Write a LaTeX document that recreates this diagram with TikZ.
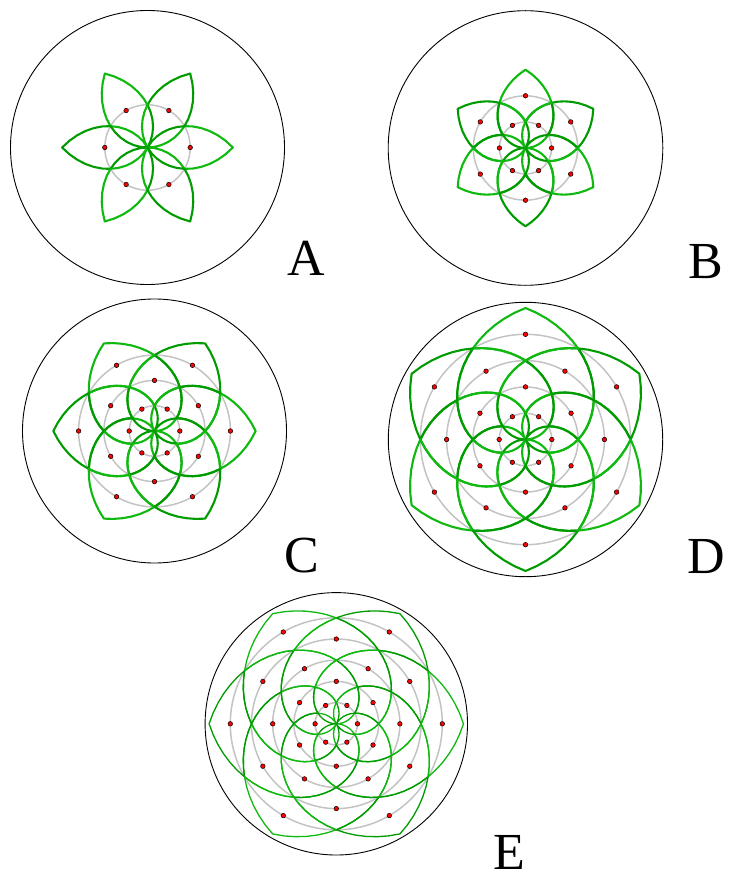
\documentclass[tikz,border=0pt]{standalone}
\usepackage{fontspec}
\setmainfont{Liberation Serif}
\definecolor{gA}{RGB}{0,155,0}
\definecolor{gB}{RGB}{15,185,15}
\definecolor{grayc}{RGB}{195,195,195}
\tikzset{
  outercirc/.style={draw=black, line width=0.9pt},
  ringcirc/.style={draw=grayc, line width=1.5pt},
  petalline/.style={line join=round, line cap=round},
  reddot/.style={fill=red, draw=black, line width=0.5pt},
  lbl/.style={font=\fontsize{52}{60}\selectfont, anchor=base, inner sep=0pt, text depth=0pt, text height=35pt},
}
% #1 cx, #2 cy, #3 R, #4 r, #5 number of rings, #6 green line width
\newcommand\drawpanel[6]{%
  \begin{scope}[shift={(#1,-#2)}]
    \draw[outercirc] (0,0) circle (#3);
    \foreach \k in {1,...,#5} {\draw[ringcirc] (0,0) circle ({\k*#4});}
    \foreach \k in {1,...,#5} {
      \pgfmathsetmacro\off{mod(\k+1,2)*30}
      \pgfmathsetmacro\rc{\k*#4}
      \foreach \j in {0,...,5} {
        \pgfmathsetmacro\ang{\off+60*\j}
        \pgfmathtruncatemacro\parity{mod(\j+\k,2)}
        \ifnum\parity=0 \def\col{gA}\else\def\col{gB}\fi
        \draw[petalline, draw=\col, line width=#6]
          plot[samples=25, domain=0:4, variable=\s]
          ({(\rc + #4*(1-abs(\s-2)))*cos(\ang + 30*(1-abs(mod(\s+1,4)-2)))},
           {(\rc + #4*(1-abs(\s-2)))*sin(\ang + 30*(1-abs(mod(\s+1,4)-2)))}) -- cycle;
      }
    }
    \foreach \k in {1,...,#5} {
      \pgfmathsetmacro\off{mod(\k+1,2)*30}
      \pgfmathsetmacro\rc{\k*#4}
      \foreach \j in {0,...,5} {
        \pgfmathsetmacro\ang{\off+60*\j}
        \draw[reddot] (\ang:\rc) circle (2.3);
      }
    }
  \end{scope}
}
\begin{document}
\begin{tikzpicture}[x=1pt, y=1pt]
  \useasboundingbox (0,0) rectangle (728,-882);
  \drawpanel{147.5}{147.5}{137}{42.7}{1}{2.1pt}
  \drawpanel{525.5}{148}{137.3}{26.1}{2}{2.1pt}
  \drawpanel{154.5}{431}{132}{25.3}{3}{2.1pt}
  \drawpanel{525.5}{439.5}{137.2}{26.3}{4}{2.1pt}
  \drawpanel{336.3}{723.8}{131.2}{21.2}{5}{1.3pt}
  \node[lbl] (lA) at (306,-275.5) {A};
  \node[lbl] (lB) at (706,-278) {B};
  \node[lbl] (lC) at (301.5,-572.5) {C};
  \node[lbl] (lD) at (706.5,-573) {D};
  \node[lbl] (lE) at (509,-869.5) {E};
\end{tikzpicture}
\end{document}
